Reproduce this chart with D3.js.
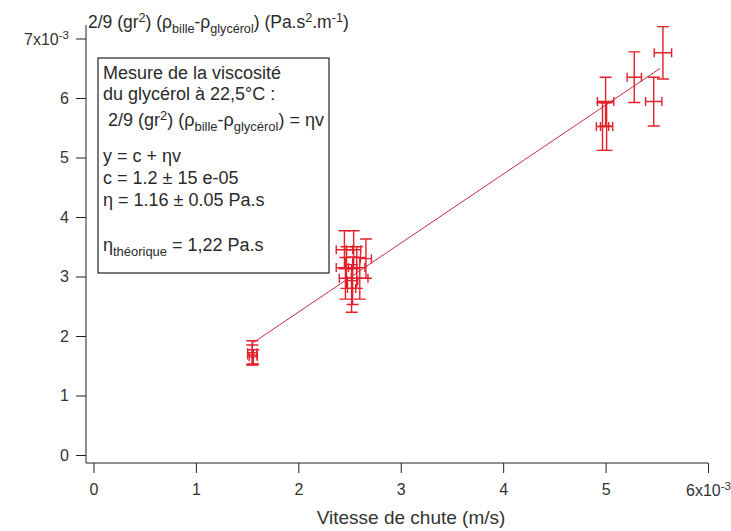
<!DOCTYPE html>
<html>
<head>
<meta charset="utf-8">
<script src="https://cdn.jsdelivr.net/npm/d3@7/dist/d3.min.js"></script>
<style>
  body { margin: 0; background: #fff; }
  svg { display: block; font-family: "Liberation Sans", Arial, sans-serif; }
</style>
</head>
<body>
<div id="chart"></div>
<script>
// values in units of 1e-3
const speed = [1.55, 1.55, 1.56, 2.45, 2.54, 2.66, 2.47, 2.57, 2.46, 2.53, 2.60, 2.52, 5.00, 4.97, 5.01, 5.28, 5.47, 5.56]
const force = [1.72, 1.68, 1.65, 3.45, 3.45, 3.30, 3.15, 3.15, 2.97, 2.93, 2.97, 2.80, 5.94, 5.52, 5.52, 6.35, 5.94, 6.76]
const speedErr = [0.045, 0.045, 0.04, 0.08, 0.07, 0.054, 0.1, 0.08, 0.06, 0.05, 0.08, 0.04, 0.08, 0.06, 0.06, 0.07, 0.08, 0.085]
const forceErr = [0.20, 0.17, 0.12, 0.32, 0.32, 0.33, 0.35, 0.35, 0.35, 0.40, 0.35, 0.40, 0.41, 0.40, 0.40, 0.425, 0.41, 0.44]

const fitIntercept = 0.08
const fitSlope = 1.16

const xTicks = [0, 1, 2, 3, 4, 5, 6]
const yTicks = [0, 1, 2, 3, 4, 5, 6, 7]

const W = 731, H = 531
const RED = "#e3202a", FITRED = "#cc2a45", INK = "#2a2a2a"

const svg = d3.select("#chart").append("svg").attr("width", W).attr("height", H)

const x = d3.scaleLinear().domain([0, 6]).range([93.5, 708])
const y = d3.scaleLinear().domain([0, 7]).range([455, 38.5])

// rich text helper: parts = [[text, "sup"|"sub"|""], ...]
function rich(sel, parts, size) {
  let shift = 0
  parts.forEach(([t, kind]) => {
    let target = kind == "sup" ? -0.36 * size : kind == "sub" ? 0.3 * size : 0
    sel.append("tspan")
      .attr("dy", target - shift)
      .attr("font-size", kind ? size * 0.72 : size)
      .text(t)
    shift = target
  })
  return sel
}

// axes
const yAxisX = 86, xAxisY = 463

const yAxis = svg.append("g").attr("transform", `translate(${yAxisX},0)`)
  .call(d3.axisLeft(y).tickValues(yTicks).tickSize(10).tickPadding(7).tickFormat(d => d == 7 ? "" : d))
yAxis.select(".domain").remove()
yAxis.selectAll("line").attr("stroke", "#222")
yAxis.selectAll("text").attr("font-size", 16).attr("fill", "#333").attr("font-family", null)
yAxis.selectAll(".tick").filter(d => d == 7).select("text")
  .attr("dy", null).attr("y", 5.5)
  .call(s => rich(s, [["7x10", ""], ["-3", "sup"]], 16))

const xAxis = svg.append("g").attr("transform", `translate(0,${xAxisY})`)
  .call(d3.axisBottom(x).tickValues(xTicks).tickSize(10).tickPadding(11).tickFormat(d => d == 6 ? "" : d))
xAxis.select(".domain").remove()
xAxis.selectAll("line").attr("stroke", "#222")
xAxis.selectAll("text").attr("font-size", 16).attr("fill", "#333").attr("font-family", null)
xAxis.selectAll(".tick").filter(d => d == 6).select("text")
  .attr("dy", null).attr("y", 32.5)
  .call(s => rich(s, [["6x10", ""], ["-3", "sup"]], 16))

svg.append("line").attr("x1", yAxisX).attr("x2", yAxisX).attr("y1", 25).attr("y2", xAxisY).attr("stroke", "#222")
svg.append("line").attr("x1", yAxisX).attr("x2", x(6)).attr("y1", xAxisY).attr("y2", xAxisY).attr("stroke", "#222")

// axis titles
rich(svg.append("text").attr("x", 88).attr("y", 28).attr("fill", INK),
  [["2/9 (gr", ""], ["2", "sup"], [") (ρ", ""], ["bille", "sub"], ["-ρ", ""], ["glycérol", "sub"], [") (Pa.s", ""], ["2", "sup"], [".m", ""], ["-1", "sup"], [")", ""]], 17.5)

svg.append("text").attr("x", 411).attr("y", 524).attr("text-anchor", "middle")
  .attr("font-size", 19).attr("fill", "#333").text("Vitesse de chute (m/s)")

// fit line
const fitX = d3.extent(speed)
svg.append("line")
  .attr("x1", x(fitX[0])).attr("y1", y(fitIntercept + fitSlope * fitX[0]))
  .attr("x2", x(fitX[1] - 0.03)).attr("y2", y(fitIntercept + fitSlope * (fitX[1] - 0.03)))
  .attr("stroke", FITRED).attr("stroke-width", 1)

// error bars
const pts = speed.map((v, i) => ({v, f: force[i], dv: speedErr[i], df: forceErr[i]}))
const g = svg.append("g").attr("stroke", RED).attr("stroke-width", 1.4).attr("fill", "none")
const bar = g.selectAll("g").data(pts).join("g")
bar.append("path").attr("d", d => {
  let cx = x(d.v), cy = y(d.f)
  let y0 = y(d.f + d.df), y1 = y(d.f - d.df)
  let x0 = x(d.v - d.dv), x1 = x(d.v + d.dv)
  return `M${cx},${y0}V${y1}M${cx - 6},${y0}H${cx + 6}M${cx - 6},${y1}H${cx + 6}` +
    `M${x0},${cy}H${x1}M${x0},${cy - 4.5}V${cy + 4.5}M${x1},${cy - 4.5}V${cy + 4.5}`
})

// annotation box
const box = svg.append("g")
box.append("rect").attr("x", 98).attr("y", 58).attr("width", 231).attr("height", 215)
  .attr("fill", "#fff").attr("stroke", "#222").attr("stroke-width", 1.2)

const lines = [
  [[["Mesure de la viscosité", ""]], 79],
  [[["du glycérol à 22,5°C :", ""]], 100],
  [[[" 2/9 (gr", ""], ["2", "sup"], [") (ρ", ""], ["bille", "sub"], ["-ρ", ""], ["glycérol", "sub"], [") = ηv", ""]], 126],
  [[["y = c + ηv", ""]], 162],
  [[["c = 1.2 ± 15 e-05", ""]], 184],
  [[["η = 1.16 ± 0.05 Pa.s", ""]], 206],
  [[["η", ""], ["théorique", "sub"], [" = 1,22 Pa.s", ""]], 251]
]
lines.forEach(([parts, by]) => {
  rich(box.append("text").attr("x", 103).attr("y", by).attr("fill", INK)
    .attr("xml:space", "preserve"), parts, 18)
})
</script>
</body>
</html>
